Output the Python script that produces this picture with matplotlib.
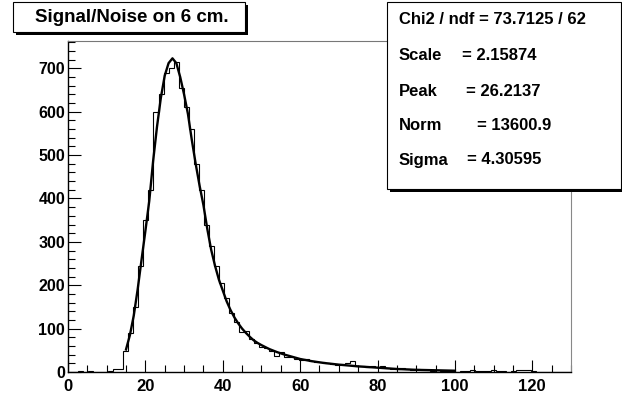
import numpy as np
import matplotlib.pyplot as plt
from matplotlib.ticker import MultipleLocator
from matplotlib.patches import Rectangle

plt.rcParams['font.family'] = ['Liberation Sans', 'DejaVu Sans']
plt.rcParams['font.weight'] = 'bold'

# --- histogram: 100 bins between 0 and 130 ---
x_min, x_max, n_bins = 0, 130, 100
counts = [0, 0, 3, 1, 2, 1, 1, 0, 2, 7,
          8, 48, 90, 150, 245, 350, 420, 600, 640, 690,
          700, 715, 655, 610, 560, 480, 420, 340, 290, 245,
          205, 170, 135, 115, 92, 95, 75, 66, 58, 55,
          48, 38, 45, 35, 34, 30, 28, 30, 25, 22,
          24, 20, 19, 17, 18, 20, 25, 13, 14, 12,
          13, 11, 15, 10, 8, 7, 9, 6, 5, 6,
          4, 5, 3, 4, 3, 2, 3, 1, 2, 3,
          4, 3, 2, 3, 5, 3, 2, 1, 3, 4,
          4, 5, 2, 1, 0, 1, 0, 0, 0, 0]

# --- fitted curve ---
fit_x = [15, 16, 17, 18, 19, 20, 21, 22, 23, 24, 25, 26, 27, 28, 29, 30,
         31, 32, 33, 34, 35, 36, 37, 38, 39, 40, 41, 42, 43, 44, 45, 46,
         47, 48, 49, 50, 52, 54, 56, 58, 60, 63, 66, 70, 75, 80, 85, 90, 95, 100]
fit_y = [52, 85, 130, 190, 258, 325, 394, 486, 565, 632, 683, 712, 723, 712, 680, 640,
         595, 535, 480, 430, 385, 330, 282, 245, 213, 188, 163, 143, 126, 112, 100, 90,
         81, 73, 67, 62, 53, 46, 40, 35, 30, 25, 21, 17, 13, 10, 7, 5, 4, 3]

title = "Signal/Noise on 6 cm."
stat_names = ["Scale", "Peak", "Norm", "Sigma"]
stat_values = ["= 2.15874", "= 26.2137", "= 13600.9", "= 4.30595"]
chi2_text = "Chi2 / ndf = 73.7125 / 62"

fig = plt.figure(figsize=(6.22, 3.98), dpi=100)
ax = fig.add_axes([0.1093, 0.0653, 0.8087, 0.8317])

edges = np.linspace(x_min, x_max, n_bins + 1)
ax.stairs(counts, edges, color='black', lw=0.8)
ax.plot(fit_x, fit_y, color='black', lw=1.7)

ax.set_xlim(0, 130)
ax.set_ylim(0, 763)
ax.xaxis.set_major_locator(MultipleLocator(20))
ax.xaxis.set_minor_locator(MultipleLocator(5))
ax.yaxis.set_major_locator(MultipleLocator(100))
ax.yaxis.set_minor_locator(MultipleLocator(20))
ax.tick_params(which='both', direction='in', top=False, right=False,
               labelsize=12, width=0.8)
ax.tick_params(which='major', length=9)
ax.tick_params(which='minor', length=5)
for lab in ax.get_xticklabels() + ax.get_yticklabels():
    lab.set_fontweight('bold')
ax.tick_params(axis='y', pad=2, labelsize=11.5)
ax.tick_params(axis='x', pad=5)

ax.spines['left'].set_linewidth(1.0)
ax.spines['bottom'].set_linewidth(1.0)
ax.spines['top'].set_color('#777777')
ax.spines['top'].set_linestyle((0, (4, 1)))
ax.spines['top'].set_linewidth(0.8)
ax.spines['right'].set_color('#888888')
ax.spines['right'].set_linewidth(0.8)

# boxes are placed in pixel units of the 622x398 canvas
W, H = 622, 398
def px_rect(x0, y0, x1, y1, **kw):
    return Rectangle((x0 / W, 1 - y1 / H), (x1 - x0) / W, (y1 - y0) / H,
                     transform=fig.transFigure, **kw)

# title box with drop shadow
fig.patches.append(px_rect(16, 5, 248, 35, facecolor='black', edgecolor='none', zorder=5))
fig.patches.append(px_rect(13, 2, 245, 32, facecolor='white', edgecolor='black', lw=0.8, zorder=6))
fig.text(132 / W, 1 - 17 / H, title, ha='center', va='center', fontsize=13.5,
         fontweight='bold', zorder=7)

# stats box
fig.patches.append(px_rect(390, 5, 625, 192, facecolor='black', edgecolor='none', zorder=5))
fig.patches.append(px_rect(387, 2, 621, 189, facecolor='white', edgecolor='black', lw=0.8, zorder=6))
fig.text(399 / W, 1 - 20 / H, chi2_text, ha='left', va='center', fontsize=12,
         fontweight='bold', zorder=7)
row_y = [56, 91, 125, 160]
val_x = [462, 466, 477, 467]
for name, val, y, vx in zip(stat_names, stat_values, row_y, val_x):
    fig.text(399 / W, 1 - y / H, name, ha='left', va='center', fontsize=12,
             fontweight='bold', zorder=7)
    fig.text(vx / W, 1 - y / H, val, ha='left', va='center', fontsize=12,
             fontweight='bold', zorder=7)

fig.savefig("out.png", dpi=100)
